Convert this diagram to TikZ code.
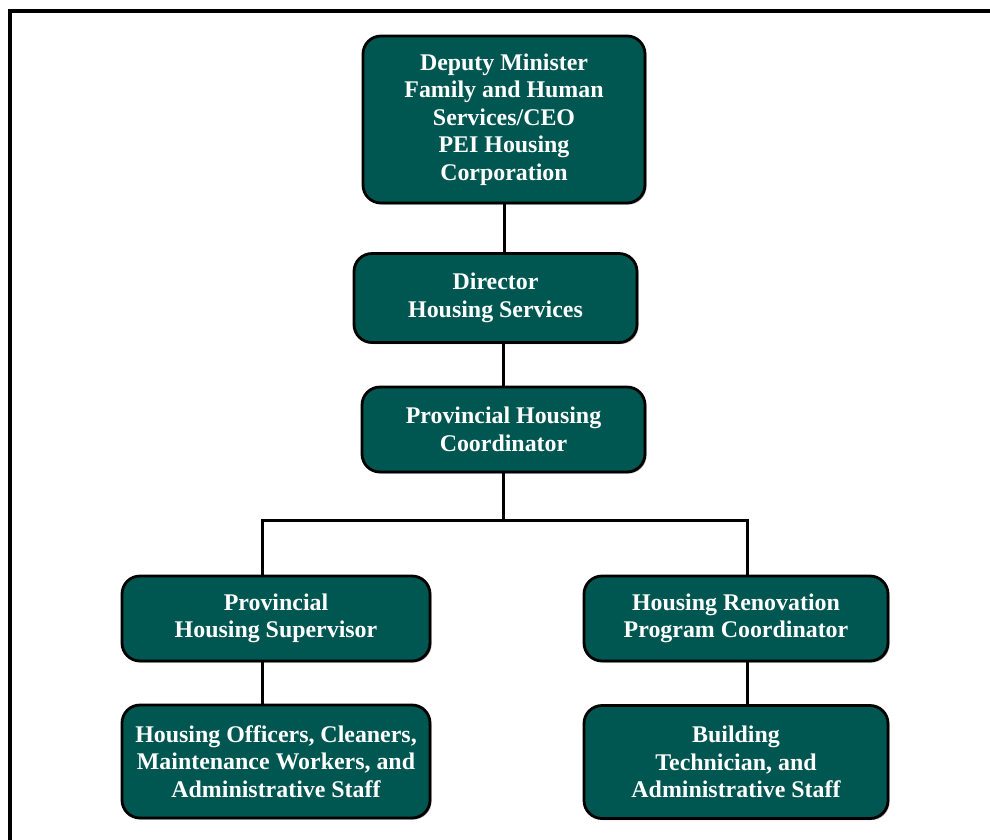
\documentclass[tikz,border=0pt]{standalone}
\usepackage{fontspec}
\setmainfont{Liberation Serif}
\usetikzlibrary{shadows}
\definecolor{boxteal}{RGB}{0,86,80}
\tikzset{
  orgbox/.style={draw=black, line width=2.8pt, fill=boxteal, rounded corners=18pt,
    text=white, font=\bfseries\fontsize{23.9}{27.5}\selectfont, align=center,
    inner sep=0pt, anchor=center,
    drop shadow={shadow xshift=1.5pt, shadow yshift=-1.5pt, opacity=0.35, fill=black}},
  link/.style={draw=black, line width=3pt},
}
\begin{document}
\begin{tikzpicture}[x=1pt, y=-1pt]
\clip (0,0) rectangle (990,839);
\fill[white] (0,0) rectangle (990,839);
\draw[line width=3.2pt] (10,1000) -- (10,11) -- (1000,11);

\node[orgbox, minimum width=282pt, minimum height=167pt] (top) at (504,119.5)
  {Deputy Minister\\Family and Human\\Services/CEO\\PEI Housing\\Corporation};
\node[orgbox, minimum width=283pt, minimum height=89pt] (dir) at (495.5,298)
  {Director\\Housing Services};
\node[orgbox, minimum width=283pt, minimum height=85pt] (coord) at (503.5,429.5)
  {Provincial Housing\\Coordinator};
\node[orgbox, minimum width=308pt, minimum height=85pt] (sup) at (276,618.5)
  {Provincial\\Housing Supervisor};
\node[orgbox, minimum width=304pt, minimum height=85pt] (ren) at (736,618.5)
  {Housing Renovation\\Program Coordinator};
\node[orgbox, minimum width=308pt, minimum height=113pt] (off) at (276,761.5)
  {Housing Officers, Cleaners,\\Maintenance Workers, and\\Administrative Staff};
\node[orgbox, minimum width=304pt, minimum height=113pt] (bld) at (736,762)
  {Building\\Technician, and\\Administrative Staff};

\coordinate (bl) at (262,520);
\coordinate (br) at (747,520);

\begin{scope}[on background layer/.style={}]
\draw[link] (top.south) -- (top.south |- dir.north);
\draw[link] (coord.north) -- (coord.north |- dir.south);
\draw[link] (coord.south) -- (coord.south |- bl);
\draw[link, line cap=rect] (bl) -- (br);
\draw[link] (bl) -- (bl |- sup.north);
\draw[link] (br) -- (br |- ren.north);
\draw[link] (bl |- sup.south) -- (bl |- off.north);
\draw[link] (br |- ren.south) -- (br |- bld.north);
\end{scope}
\end{tikzpicture}
\end{document}
